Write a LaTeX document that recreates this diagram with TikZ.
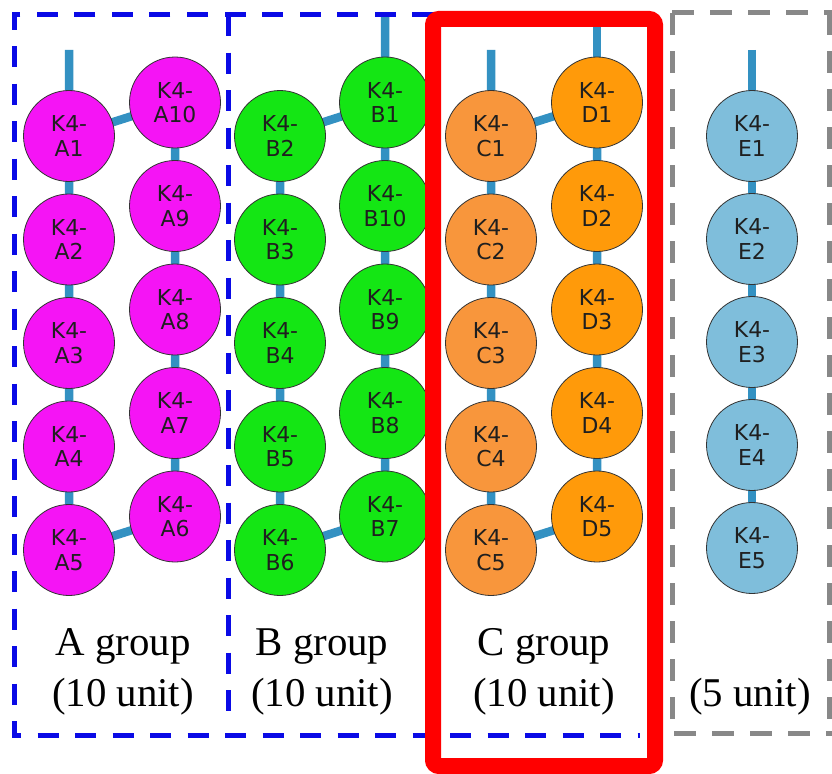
\documentclass[tikz,border=0pt]{standalone}
\usepackage{fontspec}
\setmainfont{Liberation Serif}
\newfontfamily\circfont{DejaVu Sans}
\usetikzlibrary{backgrounds}
\definecolor{linkc}{HTML}{3391C2}
\definecolor{cA}{HTML}{F514F5}
\definecolor{cB}{HTML}{14E614}
\definecolor{cC}{HTML}{F8963C}
\definecolor{cD}{HTML}{FF9A0A}
\definecolor{cE}{HTML}{7FBEDB}
\definecolor{grpblue}{HTML}{0A0AE6}
\definecolor{grpgray}{HTML}{888888}
\begin{document}
\begin{tikzpicture}[x=1bp,y=-1bp,
  unit/.style={circle,draw=black!80,line width=0.8bp,minimum size=91bp,inner sep=0pt,
    align=center,font=\circfont\fontsize{22}{24.5}\selectfont,text=black!88},
  link/.style={draw=linkc,line width=8.5bp},
  bluedash/.style={draw=grpblue,line width=5bp,dash pattern=on 21bp off 16.5bp},
  graydash/.style={draw=grpgray,line width=5bp,dash pattern=on 22bp off 16bp},
  grplabel/.style={anchor=base,inner sep=0pt,font=\fontsize{41}{51}\selectfont}]
\useasboundingbox (0,0) rectangle (832,774);
% group frames
\draw[bluedash] (433,15) -- (14,15) -- (14,735) -- (640,735);
\draw[bluedash] (228,15) -- (228,720);
\draw[graydash] (672,13) -- (672,733) -- (832,733);
\draw[graydash] (672,13) -- (832,13);
\draw[graydash] (829,13) -- (829,733);
% units
\foreach \i/\y in {1/136,2/239.5,3/343,4/446.5,5/550} {
  \node[unit,fill=cA] (A\i) at (69,\y) {K4-\\A\i};
  \node[unit,fill=cC] (C\i) at (491,\y) {K4-\\C\i};
}
\foreach \i/\y in {10/102.5,9/206,8/309.5,7/413,6/516.5} {
  \node[unit,fill=cA] (A\i) at (175,\y) {K4-\\A\i};
}
\foreach \i/\y in {1/102.5,10/206,9/309.5,8/413,7/516.5} {
  \node[unit,fill=cB] (B\i) at (385,\y) {K4-\\B\i};
}
\foreach \i/\y in {2/136,3/239.5,4/343,5/446.5,6/550} {
  \node[unit,fill=cB] (B\i) at (280,\y) {K4-\\B\i};
}
\foreach \i/\y in {1/102.5,2/206,3/309.5,4/413,5/516.5} {
  \node[unit,fill=cD] (D\i) at (597,\y) {K4-\\D\i};
}
\foreach \i/\y in {1/136,2/239,3/342,4/445,5/548} {
  \node[unit,fill=cE] (E\i) at (752,\y) {K4-\\E\i};
}
\coordinate (sA) at (69,50);
\coordinate (sB) at (385,17);
\coordinate (sC) at (491,50);
\coordinate (sD) at (597,22);
\coordinate (sE) at (752,50);
% links
\begin{pgfonlayer}{background}
\draw[link] (sA) -- (A1.center) -- (A2.center) -- (A3.center) -- (A4.center) -- (A5.center)
  -- (A6.center) -- (A7.center) -- (A8.center) -- (A9.center) -- (A10.center) -- (A1.center);
\draw[link] (sB) -- (B1.center) -- (B2.center) -- (B3.center) -- (B4.center) -- (B5.center)
  -- (B6.center) -- (B7.center) -- (B8.center) -- (B9.center) -- (B10.center) -- (B1.center);
\draw[link] (sC) -- (C1.center) -- (C2.center) -- (C3.center) -- (C4.center) -- (C5.center)
  -- (D5.center) -- (D4.center) -- (D3.center) -- (D2.center) -- (D1.center) -- (C1.center);
\draw[link] (sD) -- (D1.center);
\draw[link] (sE) -- (E1.center) -- (E2.center) -- (E3.center) -- (E4.center) -- (E5.center);
\end{pgfonlayer}
% labels
\node[grplabel] (lA1) at (123,655) {A group};
\node[grplabel] (lA2) at (123,706) {(10 unit)};
\node[grplabel] (lB1) at (322,655) {B group};
\node[grplabel] (lB2) at (322,706) {(10 unit)};
\node[grplabel] (lC1) at (544,655) {C group};
\node[grplabel] (lC2) at (544,706) {(10 unit)};
\node[grplabel] (lE2) at (750,706) {(5 unit)};
% selected group
\draw[red,line width=16bp,rounded corners=6bp] (433,19) rectangle (655,766);
\end{tikzpicture}
\end{document}
